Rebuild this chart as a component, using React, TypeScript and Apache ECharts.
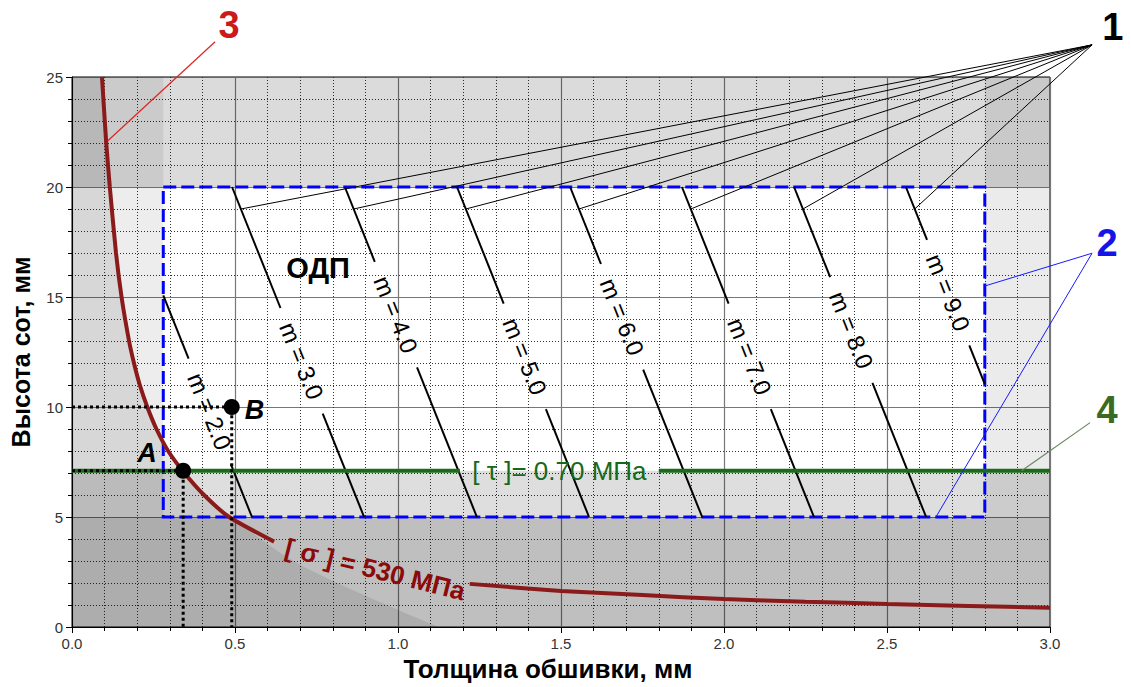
import React, { useEffect, useRef } from "react";
import * as echarts from "echarts";

// ---------- axes ----------
const X_MIN = 0;
const X_MAX = 3;
const X_STEP = 0.5;
const Y_MIN = 0;
const Y_MAX = 25;
const Y_STEP = 5;
const xAxisName = "Толщина обшивки, мм";
const yAxisName = "Высота сот, мм";

// ---------- [σ] = 530 MPa curve ----------
const sigmaX = [0.092, 0.105, 0.116, 0.135, 0.152, 0.175, 0.19, 0.208, 0.231, 0.259, 0.295, 0.341, 0.405, 0.482, 0.62, 0.8, 1.0, 1.22, 1.5, 1.75, 2.0, 2.25, 2.5, 2.75, 3.0];
const sigmaY = [25, 22.0, 20, 17, 15, 13, 12, 11, 10, 9, 8, 7.07, 6, 5, 3.88, 3.0, 2.4, 1.96, 1.64, 1.45, 1.27, 1.15, 1.05, 0.96, 0.87];
const sigmaGap = [0.63, 1.21];
const sigmaLabel = "[ σ ] = 530 МПа";
const sigmaLabelPos = [0.93, 2.62];
// lower edge of the shaded zone under the curve
const shadeEdgeX = [0.482, 0.57, 0.64, 0.715, 0.82, 0.92, 1.02, 1.125];
const shadeEdgeY = [5.0, 4.1, 3.35, 2.7, 1.95, 1.3, 0.65, 0.0];

// ---------- [τ] = 0.70 MPa line ----------
const tauY = 7.1;
const tauGap = [1.19, 1.8];
const tauLabel = "[ τ ]= 0.70 МПа";

// ---------- ОДП (feasible region) ----------
const odpX = [0.28, 2.8];
const odpY = [5, 20];
const odpLabel = "ОДП";
const odpLabelPos = [0.755, 16.3];

// ---------- constraint shading ----------
const shadeX0 = [0, 0, 0, 2.8, 0];
const shadeX1 = [3, 3, 0.28, 3, 3];
const shadeY0 = [20, 0, 5, 5, 5];
const shadeY1 = [25, 5, 25, 25, 7.1];
const shadeAlpha = [0.14, 0.25, 0.07, 0.08, 0.13];
const sigmaShadeAlpha = 0.09;

// ---------- m = const lines ----------
const mLabels = ["2.0", "3.0", "4.0", "5.0", "6.0", "7.0", "8.0", "9.0"];
const mTopX = [0.147, 0.491, 0.837, 1.181, 1.528, 1.871, 2.215, 2.558];
const mBottomX = [0.552, 0.896, 1.242, 1.586, 1.933, 2.276, 2.62, 2.963];
const mLabelY = [9.8, 12.1, 14.2, 12.3, 14.1, 12.3, 13.5, 15.2];
const mGapHalf = 2.4;

// ---------- points A, B ----------
const pointNames = ["A", "B"];
const pointX = [0.341, 0.49];
const pointY = [7.1, 10.0];
const pointLabelX = [0.23, 0.56];
const pointLabelY = [7.9, 9.85];

// ---------- callouts ----------
const callout1Hub = [3.129, 26.46];
const callout1Text = [3.193, 27.27];
const callout1AtY = 19;
const callout2Hub = [3.129, 16.99];
const callout2Targets = [[2.8, 15.5], [2.65, 5.0]];
const callout2Text = [3.175, 17.45];
const callout3From = [0.11, 22.1];
const callout3To = [0.439, 26.6];
const callout3Text = [0.482, 27.36];
const callout4From = [2.913, 7.1];
const callout4To = [3.123, 9.29];
const callout4Text = [3.175, 9.86];

const FONT = "'Liberation Sans', Arial, Helvetica, sans-serif";

export default function App() {
  const ref = useRef<HTMLDivElement>(null);

  useEffect(() => {
    if (!ref.current) return;
    const chart = echarts.init(ref.current, null, { renderer: "svg" });
    const one = [[0, 0]];

    const shading = (_p: any, api: any) => {
      const children: any[] = [];
      for (let i = 0; i < shadeX0.length; i++) {
        const a = api.coord([shadeX0[i], shadeY1[i]]);
        const b = api.coord([shadeX1[i], shadeY0[i]]);
        children.push({
          type: "rect",
          shape: { x: a[0], y: a[1], width: b[0] - a[0], height: b[1] - a[1] },
          style: { fill: `rgba(0,0,0,${shadeAlpha[i]})` },
        });
      }
      const poly: number[][] = [[X_MIN, Y_MAX]];
      sigmaX.forEach((x, i) => {
        if (sigmaY[i] > shadeEdgeY[0]) poly.push([x, sigmaY[i]]);
      });
      shadeEdgeX.forEach((x, i) => poly.push([x, shadeEdgeY[i]]));
      poly.push([X_MIN, Y_MIN]);
      children.push({
        type: "polygon",
        shape: { points: poly.map((p) => api.coord(p)) },
        style: { fill: `rgba(0,0,0,${sigmaShadeAlpha})` },
      });
      return { type: "group", children };
    };

    const mLineX = (i: number, y: number) =>
      mTopX[i] + ((mBottomX[i] - mTopX[i]) * (odpY[1] - y)) / (odpY[1] - odpY[0]);
    const mLineY = (i: number, x: number) =>
      odpY[1] - ((odpY[1] - odpY[0]) * (x - mTopX[i])) / (mBottomX[i] - mTopX[i]);

    const mLines = (_p: any, api: any) => {
      const children: any[] = [];
      mLabels.forEach((lab, i) => {
        let yHi = odpY[1];
        let yLo = odpY[0];
        if (mTopX[i] < odpX[0]) yHi = mLineY(i, odpX[0]);
        if (mBottomX[i] > odpX[1]) yLo = mLineY(i, odpX[1]);
        const ly = mLabelY[i];
        const segs = [
          [yHi, ly + mGapHalf],
          [ly - mGapHalf, yLo],
        ];
        segs.forEach(([a, b]) => {
          if (a > b) {
            const p1 = api.coord([mLineX(i, a), a]);
            const p2 = api.coord([mLineX(i, b), b]);
            children.push({
              type: "line",
              shape: { x1: p1[0], y1: p1[1], x2: p2[0], y2: p2[1] },
              style: { stroke: "#000", lineWidth: 2 },
            });
          }
        });
        const pt = api.coord([mTopX[i], odpY[1]]);
        const pb = api.coord([mBottomX[i], odpY[0]]);
        const ang = Math.atan2(pb[1] - pt[1], pb[0] - pt[0]);
        const c = api.coord([mLineX(i, ly), ly]);
        children.push({
          type: "text",
          x: c[0],
          y: c[1],
          rotation: -ang,
          style: {
            text: "m = " + lab,
            font: `24px ${FONT}`,
            fill: "#000",
            align: "center",
            verticalAlign: "middle",
            textAlign: "center",
            textVerticalAlign: "middle",
          },
        });
      });
      return { type: "group", children };
    };

    const odpRect = (_p: any, api: any) => {
      const a = api.coord([odpX[0], odpY[1]]);
      const b = api.coord([odpX[1], odpY[0]]);
      return {
        type: "rect",
        shape: { x: a[0], y: a[1], width: b[0] - a[0], height: b[1] - a[1] },
        style: { fill: "none", stroke: "#0000ff", lineWidth: 3, lineDash: [13, 5] },
      };
    };

    const tauLine = (_p: any, api: any) => {
      const segs = [
        [X_MIN, tauGap[0]],
        [tauGap[1], X_MAX],
      ];
      const children: any[] = segs.map(([a, b]) => {
        const p1 = api.coord([a, tauY]);
        const p2 = api.coord([b, tauY]);
        return {
          type: "line",
          shape: { x1: p1[0], y1: p1[1], x2: p2[0], y2: p2[1] },
          style: { stroke: "#1c6b1c", lineWidth: 4 },
        };
      });
      const c = api.coord([(tauGap[0] + tauGap[1]) / 2, tauY]);
      children.push({
        type: "text",
        x: c[0],
        y: c[1],
        style: {
          text: tauLabel,
          font: `26px ${FONT}`,
          fill: "#17691a",
          align: "center",
          verticalAlign: "middle",
          textAlign: "center",
          textVerticalAlign: "middle",
        },
      });
      return { type: "group", children };
    };

    const points = (_p: any, api: any) => {
      const children: any[] = [];
      pointNames.forEach((_name, i) => {
        const pts = [
          [X_MIN, pointY[i]],
          [pointX[i], pointY[i]],
          [pointX[i], Y_MIN],
        ].map((p) => api.coord(p));
        children.push({
          type: "polyline",
          shape: { points: pts },
          style: { stroke: "#000", lineWidth: 3, lineDash: [3, 3], fill: "none" },
        });
      });
      pointNames.forEach((name, i) => {
        const c = api.coord([pointX[i], pointY[i]]);
        children.push({ type: "circle", shape: { cx: c[0], cy: c[1], r: 8 }, style: { fill: "#000" } });
        const t = api.coord([pointLabelX[i], pointLabelY[i]]);
        children.push({
          type: "text",
          x: t[0],
          y: t[1],
          style: {
            text: name,
            font: `italic bold 27px ${FONT}`,
            fill: "#000",
            align: "center",
            verticalAlign: "middle",
            textAlign: "center",
            textVerticalAlign: "middle",
          },
        });
      });
      return { type: "group", children };
    };

    const txt = (api: any, pos: number[], text: string, font: string, fill: string, rotation = 0) => {
      const c = api.coord(pos);
      return {
        type: "text",
        x: c[0],
        y: c[1],
        rotation,
        style: {
          text,
          font,
          fill,
          align: "center",
          verticalAlign: "middle",
          textAlign: "center",
          textVerticalAlign: "middle",
        },
      };
    };
    const seg = (api: any, a: number[], b: number[], stroke: string, lineWidth = 1) => {
      const p1 = api.coord(a);
      const p2 = api.coord(b);
      return {
        type: "line",
        shape: { x1: p1[0], y1: p1[1], x2: p2[0], y2: p2[1] },
        style: { stroke, lineWidth },
      };
    };

    const annotations = (_p: any, api: any) => {
      const children: any[] = [];
      for (let i = 1; i < mLabels.length; i++) {
        children.push(seg(api, callout1Hub, [mLineX(i, callout1AtY), callout1AtY], "#000", 1));
      }
      callout2Targets.forEach((t) => children.push(seg(api, callout2Hub, t, "#1a1aff", 1)));
      children.push(seg(api, callout3From, callout3To, "#e02424", 1.2));
      children.push(seg(api, callout4From, callout4To, "#6a8560", 1.2));
      children.push(txt(api, callout1Text, "1", `bold 38px ${FONT}`, "#000"));
      children.push(txt(api, callout2Text, "2", `bold 38px ${FONT}`, "#1414e8"));
      children.push(txt(api, callout3Text, "3", `bold 38px ${FONT}`, "#cc1a1a"));
      children.push(txt(api, callout4Text, "4", `bold 38px ${FONT}`, "#3b6b22"));
      children.push(txt(api, odpLabelPos, odpLabel, `bold 29px ${FONT}`, "#000"));
      children.push(txt(api, sigmaLabelPos, sigmaLabel, `bold 26px ${FONT}`, "#8b0a0a", (-14 * Math.PI) / 180));
      return { type: "group", children };
    };

    const sig1 = sigmaX.map((x, i) => [x, sigmaY[i]]).filter((p) => p[0] <= sigmaGap[0]);
    const sig2 = sigmaX.map((x, i) => [x, sigmaY[i]]).filter((p) => p[0] >= sigmaGap[1]);
    const sigmaStyle = { color: "#8b1a1a", width: 4 };

    const axisCommon = {
      type: "value" as const,
      axisLine: { show: true, lineStyle: { color: "#000", width: 1 } },
      axisTick: { show: true, length: 6, lineStyle: { color: "#000" } },
      minorTick: { show: true, splitNumber: 5, length: 4, lineStyle: { color: "#000" } },
      splitLine: { show: true, lineStyle: { color: "#777", width: 1.2 } },
      minorSplitLine: { show: true, lineStyle: { color: "#333", width: 1, type: [1, 2] } },
    };

    chart.setOption({
      animation: false,
      backgroundColor: "#fff",
      textStyle: { fontFamily: FONT },
      grid: { left: 72, right: 81, top: 77, bottom: 60, show: true, borderColor: "#000", borderWidth: 1 },
      xAxis: {
        ...axisCommon,
        min: X_MIN,
        max: X_MAX,
        interval: X_STEP,
        name: xAxisName,
        nameLocation: "middle",
        nameGap: 29,
        nameTextStyle: { fontSize: 26, fontWeight: "bold", color: "#000", fontFamily: FONT, padding: [0, 26, 0, 0] },
        axisLabel: { fontSize: 15, color: "#333", fontFamily: FONT, margin: 9, formatter: (v: number) => v.toFixed(1) },
      },
      yAxis: {
        ...axisCommon,
        min: Y_MIN,
        max: Y_MAX,
        interval: Y_STEP,
        name: yAxisName,
        nameLocation: "middle",
        nameGap: 39,
        nameTextStyle: { fontSize: 25, fontWeight: "bold", color: "#000", fontFamily: FONT },
        axisLabel: { fontSize: 15, color: "#333", fontFamily: FONT, margin: 9 },
      },
      series: [
        { type: "custom", name: "shading", renderItem: shading, data: one, z: 1, silent: true, clip: true },
        { type: "custom", name: "odp", renderItem: odpRect, data: one, z: 3, silent: true },
        { type: "custom", name: "m", renderItem: mLines, data: one, z: 3, silent: true },
        { type: "custom", name: "tau", renderItem: tauLine, data: one, z: 4, silent: true },
        {
          type: "line",
          name: "sigma1",
          data: sig1,
          showSymbol: false,
          smooth: 0.2,
          lineStyle: sigmaStyle,
          z: 4,
          silent: true,
        },
        {
          type: "line",
          name: "sigma2",
          data: sig2,
          showSymbol: false,
          smooth: 0.2,
          lineStyle: sigmaStyle,
          z: 4,
          silent: true,
        },
        { type: "custom", name: "points", renderItem: points, data: one, z: 5, silent: true },
        { type: "custom", name: "annotations", renderItem: annotations, data: one, z: 6, silent: true, clip: false },
      ],
    });

    return () => chart.dispose();
  }, []);

  return <div ref={ref} style={{ position: "fixed", left: 0, top: 0, width: "1131px", height: "687px", background: "#fff" }} />;
}
